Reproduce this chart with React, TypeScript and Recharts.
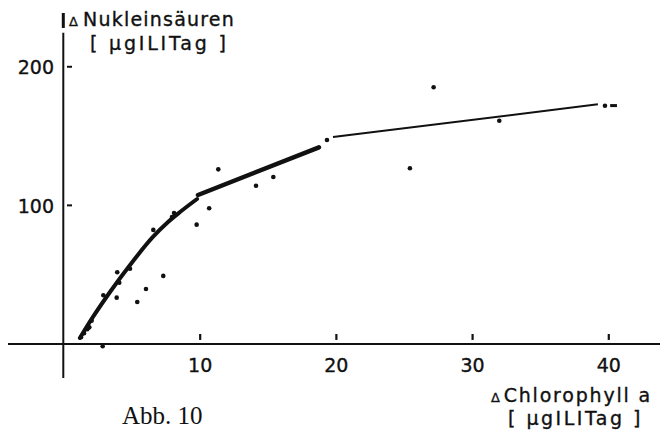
import React from 'react';
import { ComposedChart, Line, Scatter, XAxis, YAxis, ReferenceLine } from 'recharts';

const xTicks = [10, 20, 30, 40];
const yTicks = [100, 200];

const measuredPoints = [
  { x: 1.25, y: 4.8 },
  { x: 1.47, y: 7.7 },
  { x: 1.71, y: 10.6 },
  { x: 1.86, y: 12.0 },
  { x: 2.03, y: 16.8 },
  { x: 2.84, y: -1.7 },
  { x: 2.89, y: 35.1 },
  { x: 3.87, y: 33.4 },
  { x: 3.91, y: 51.7 },
  { x: 4.06, y: 44.2 },
  { x: 4.85, y: 54.3 },
  { x: 5.38, y: 30.3 },
  { x: 6.02, y: 39.7 },
  { x: 6.56, y: 82.3 },
  { x: 7.29, y: 49.1 },
  { x: 7.93, y: 91.6 },
  { x: 8.08, y: 94.5 },
  { x: 9.74, y: 86.1 },
  { x: 10.66, y: 97.9 },
  { x: 11.33, y: 126.0 },
  { x: 14.1, y: 114.2 },
  { x: 15.37, y: 120.5 },
  { x: 19.31, y: 147.2 },
  { x: 25.4, y: 126.8 },
  { x: 27.14, y: 185.2 },
  { x: 31.96, y: 161.1 },
  { x: 39.72, y: 171.9 },
];

const lowerCurve = [
  { x: 1.17, y: 4.3 },
  { x: 2.13, y: 19.5 },
  { x: 3.38, y: 37.5 },
  { x: 4.85, y: 57.0 },
  { x: 6.53, y: 77.2 },
  { x: 7.64, y: 88.0 },
  { x: 8.52, y: 95.2 },
  { x: 9.77, y: 104.6 },
];

const middleSegment = [
  { x: 9.84, y: 107.5 },
  { x: 18.72, y: 141.9 },
];

const upperSegment = [
  { x: 19.75, y: 149.4 },
  { x: 39.2, y: 172.9 },
];

const endDash = [
  { x: 40.1, y: 172.0 },
  { x: 40.6, y: 172.0 },
];

const xDomain: [number, number] = [-4.11, 43.76];
const yDomain: [number, number] = [-26, 238.8];
const yAxisX = -0.05;

const FONT = '"DejaVu Sans", sans-serif';
const INK = '#111';

const XTick = (p: any) => (
  <text x={p.x} y={371.5} textAnchor="middle" fontFamily={FONT} fontSize={19} fill={INK} stroke={INK} strokeWidth={0.35}>
    {p.payload.value}
  </text>
);

const YTick = (p: any) => (
  <text x={54} y={p.y + 7.5} textAnchor="end" fontFamily={FONT} fontSize={19} fill={INK} stroke={INK} strokeWidth={0.35}>
    {p.payload.value}
  </text>
);

const Dot = (p: any) => <circle cx={p.cx} cy={p.cy} r={2.3} fill={INK} />;

export default function App() {
  return (
    <div style={{ position: 'absolute', left: 0, top: 0, width: 662, height: 436, background: '#fff' }}>
      <ComposedChart width={662} height={436} margin={{ top: 13, right: 2, bottom: 26, left: 0 }}>
        <XAxis
          type="number"
          dataKey="x"
          domain={xDomain}
          allowDataOverflow
          ticks={xTicks}
          axisLine={false}
          tickLine={false}
          height={30}
          tick={XTick}
        />
        <YAxis
          type="number"
          dataKey="y"
          domain={yDomain}
          allowDataOverflow
          ticks={yTicks}
          interval={0}
          axisLine={false}
          tickLine={false}
          width={8}
          tick={YTick}
        />
        <ReferenceLine
          segment={[{ x: xDomain[0], y: 0 }, { x: xDomain[1], y: 0 }]}
          stroke={INK}
          strokeWidth={2}
          ifOverflow="visible"
        />
        <ReferenceLine
          segment={[{ x: yAxisX, y: -24.5 }, { x: yAxisX, y: 224.5 }]}
          stroke={INK}
          strokeWidth={2}
          ifOverflow="visible"
        />
        <ReferenceLine
          segment={[{ x: yAxisX, y: 228 }, { x: yAxisX, y: 238.8 }]}
          stroke={INK}
          strokeWidth={3}
          ifOverflow="visible"
        />
        {xTicks.map((t) => (
          <ReferenceLine
            key={'xt' + t}
            segment={[{ x: t, y: 2.9 }, { x: t, y: 7.2 }]}
            stroke={INK}
            strokeWidth={2.2}
            ifOverflow="visible"
          />
        ))}
        {yTicks.map((t) => (
          <ReferenceLine
            key={'yt' + t}
            segment={[{ x: 0.22, y: t }, { x: 0.59, y: t }]}
            stroke={INK}
            strokeWidth={2}
            ifOverflow="visible"
          />
        ))}
        <Line data={lowerCurve} dataKey="y" type="monotone" stroke={INK} strokeWidth={4} dot={false} strokeLinecap="round" isAnimationActive={false} />
        <Line data={middleSegment} dataKey="y" type="linear" stroke={INK} strokeWidth={4.5} dot={false} strokeLinecap="round" isAnimationActive={false} />
        <Line data={upperSegment} dataKey="y" type="linear" stroke={INK} strokeWidth={2} dot={false} isAnimationActive={false} />
        <Line data={endDash} dataKey="y" type="linear" stroke={INK} strokeWidth={3} dot={false} isAnimationActive={false} />
        <Scatter data={measuredPoints} dataKey="y" shape={Dot} isAnimationActive={false} />
      </ComposedChart>
      <svg width={662} height={436} style={{ position: 'absolute', left: 0, top: 0, pointerEvents: 'none' }}>
        <g fontFamily={FONT} fontSize={19} fill={INK} stroke={INK} strokeWidth={0.35}>
          <text x={69} y={26} letterSpacing={1.2}>
            <tspan fontSize={13}>Δ</tspan>
            <tspan dx={4}>Nukleinsäuren</tspan>
          </text>
          <text x={90} y={50} letterSpacing={2.8}>
            [ µgILITag ]
          </text>
          <text x={491} y={402} letterSpacing={1.8}>
            <tspan fontSize={13}>Δ</tspan>
            <tspan dx={2}>Chlorophyll a</tspan>
          </text>
          <text x={508} y={425} letterSpacing={2.5}>
            [ µgILITag ]
          </text>
        </g>
        <text x={122} y={424} fontFamily={'"Liberation Serif", serif'} fontSize={25} fill={INK}>
          Abb. 10
        </text>
      </svg>
    </div>
  );
}
